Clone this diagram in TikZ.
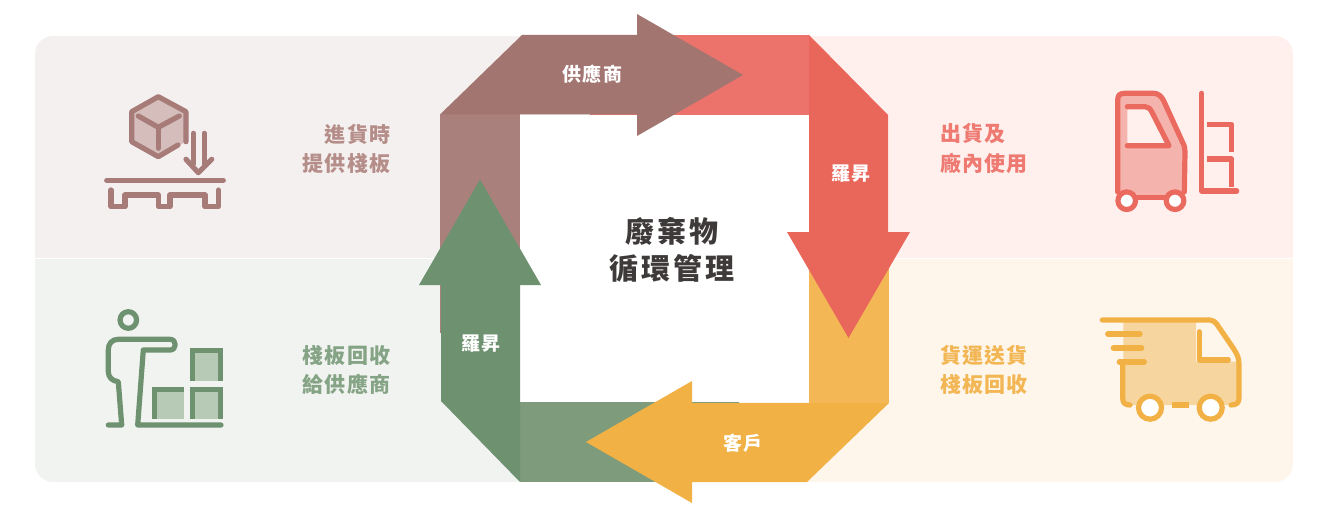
\documentclass[tikz,border=0pt]{standalone}
\usepackage{fontspec}
\newfontfamily\cjk[LetterSpace=6]{Noto Sans CJK TC}
\newfontfamily\cjkt[LetterSpace=10]{Noto Sans CJK TC}
\definecolor{pTL}{HTML}{F4F0EF}
\definecolor{pTR}{HTML}{FFF0EE}
\definecolor{pBL}{HTML}{F1F3F0}
\definecolor{pBR}{HTML}{FFF6EB}
\definecolor{brA}{HTML}{A27570}
\definecolor{brB}{HTML}{AA807C}
\definecolor{reA}{HTML}{E9665B}
\definecolor{reB}{HTML}{EC736B}
\definecolor{orA}{HTML}{F2B145}
\definecolor{orB}{HTML}{F3B855}
\definecolor{grA}{HTML}{6E9170}
\definecolor{grB}{HTML}{7E9C7B}
\definecolor{brI}{HTML}{A77C78}
\definecolor{brL}{HTML}{D4BDBA}
\definecolor{grL}{HTML}{B6CAB6}
\definecolor{reI}{HTML}{EB6A60}
\definecolor{reL}{HTML}{F5B3AD}
\definecolor{orL}{HTML}{F6D59F}
\definecolor{inkc}{HTML}{3E3A39}
\definecolor{tBr}{HTML}{B58D89}
\definecolor{tRe}{HTML}{EE7A72}
\definecolor{tOr}{HTML}{F2B655}
\definecolor{tGr}{HTML}{85A385}
\tikzset{
  icon/.style={line width=5.2pt,line cap=round,line join=round},
  sidetext/.style={font=\cjk\bfseries\fontsize{21}{29}\selectfont,inner sep=0pt},
  arrowtext/.style={font=\cjk\bfseries\fontsize{19}{22}\selectfont,text=white,inner sep=0pt},
  titletext/.style={font=\cjkt\bfseries\fontsize{29}{37}\selectfont,text=inkc,inner sep=0pt,align=center},
}
\begin{document}
\begin{tikzpicture}[x=1pt,y=-1pt]
\useasboundingbox (0,0) rectangle (1327,513);
% panels
\begin{scope}
\clip[rounded corners=18pt] (35,36) rectangle (1293,482);
\fill[pTL] (35,36) rectangle (664,258);
\fill[pTR] (664,36) rectangle (1293,258);
\fill[pBL] (35,259) rectangle (664,482);
\fill[pBR] (664,259) rectangle (1293,482);
\end{scope}
% centre
\fill[white] (520,115) rectangle (809,402);
% light parts of the ring
\fill[brB] (440,114) rectangle (520,333);
\fill[reB] (590,35) rectangle (809,115);
\fill[orB] (809,262) rectangle (889,403);
\fill[grB] (520,402) rectangle (739,482);
% arrows
\fill[brA] (440,114.5) -- (522,35) -- (637,35) -- (637,14) -- (743,75) -- (637,136) -- (637,114.5) -- cycle;
\fill[orA] (889,403) -- (807,482) -- (692,482) -- (692,503) -- (586,442) -- (692,381) -- (692,403) -- cycle;
\fill[reA] (809,35) -- (888,115) -- (888,232) -- (910,232) -- (848.5,338) -- (787,232) -- (809,232) -- cycle;
\fill[grA] (520,482) -- (441,401) -- (441,285) -- (419,285) -- (480,179.5) -- (541,285) -- (520,285) -- cycle;
% arrow labels
\node[arrowtext] (supplier) at (592.5,74) {供應商};
\node[arrowtext] (sheng1) at (851,173.5) {羅昇};
\node[arrowtext] (customer) at (743,443) {客戶};
\node[arrowtext] (sheng2) at (481,343.5) {羅昇};
% title
\node[titletext] (title) at (672,249.5) {廢棄物\\循環管理};
% side texts
\node[sidetext,text=tBr,align=right,anchor=east] (tl) at (390.5,148.5) {進貨時\\提供棧板};
\node[sidetext,text=tGr,align=right,anchor=east] (bl) at (390.5,369.5) {棧板回收\\給供應商};
\node[sidetext,text=tRe,align=left,anchor=west] (tr) at (940,148.5) {出貨及\\廠內使用};
\node[sidetext,text=tOr,align=left,anchor=west] (br) at (940,369.5) {貨運送貨\\棧板回收};
% icon: box and pallet
\begin{scope}[icon,draw=brI]
\fill[brL] (158.3,96.7) -- (186,111.7) -- (186,141.7) -- (158.3,156.7) -- (131.7,141.7) -- (131.7,111.7) -- cycle;
\draw (186,141.7) -- (186,111.7) -- (158.3,96.7) -- (131.7,111.7) -- (131.7,141.7) -- (158.3,156.7) -- (178,145);
\draw (138.3,116) -- (158.3,127.3) -- (179.3,116);
\draw (158.3,127.3) -- (158.3,148.3);
\draw (193.3,133.3) -- (193.3,164);
\draw (204.3,133.3) -- (204.3,164);
\draw (186,159.3) -- (198.3,172.7) -- (211.7,159.3);
\draw (106.7,180.3) -- (223.3,180.3);
\draw (111,190) -- (111,206.7) -- (125,206.7) -- (125,195) -- (158.3,195) -- (158.3,206.7) -- (170,206.7) -- (170,195) -- (205,195) -- (205,206.7) -- (218.3,206.7) -- (218.3,190);
\end{scope}
% icon: worker and boxes
\begin{scope}[icon,draw=grA]
\fill[grL] (190,348.3) rectangle (223.3,381);
\fill[grL] (190,386.7) rectangle (223.3,419);
\fill[grL] (152.3,386.7) rectangle (184.3,419);
\begin{scope}[line cap=butt,line join=miter,line width=5pt]
\draw (192.5,381) -- (192.5,350.8) -- (220.8,350.8) -- (220.8,381);
\draw (192.5,419) -- (192.5,389) -- (220.8,389) -- (220.8,419);
\draw (154.8,419) -- (154.8,389) -- (184.3,389);
\end{scope}
\draw (128.3,320) circle[radius=8.3];
\draw (108.3,425) -- (121.7,425) -- (118.3,381.7) .. controls (112,381) and (108.3,377) .. (108.3,371.7) -- (108.3,350) .. controls (108.3,343.5) and (112,339.3) .. (118.3,339.3) -- (170,339.3) .. controls (177,339.3) and (177,350) .. (170,350) -- (143.3,350) -- (137.7,425) -- (221,425);
\end{scope}
% icon: forklift
\begin{scope}[icon,draw=reI]
\fill[reL] (1117.7,190) -- (1117.7,100) .. controls (1117.7,95) and (1120,93.3) .. (1125,93.3) -- (1153.3,93.3) .. controls (1158,93.3) and (1161,96) .. (1163.3,100) -- (1182.3,141.7) .. controls (1184.5,146) and (1185,148) .. (1185,152) -- (1184.3,197.3) -- (1117.7,197.3) -- cycle;
\fill[pTR] (1127.3,106.7) -- (1145,106.7) .. controls (1148,106.7) and (1150,108.5) .. (1151.7,111.7) -- (1169,145.7) -- (1127.3,145.7) -- cycle;
\draw (1117.7,192) -- (1117.7,100) .. controls (1117.7,95) and (1120,93.3) .. (1125,93.3) -- (1153.3,93.3) .. controls (1158,93.3) and (1161,96) .. (1163.3,100) -- (1182.3,141.7) .. controls (1184.5,146) and (1185,148) .. (1185,152) -- (1184.3,192);
\draw (1136.7,197.3) -- (1165,197.3);
\draw (1127.3,106.7) -- (1145,106.7) .. controls (1148,106.7) and (1150,108.5) .. (1151.7,111.7) -- (1169,145.7) -- (1127.3,145.7);
\draw[fill=white] (1126.7,200.7) circle[radius=8.8];
\draw[fill=white] (1175,200.7) circle[radius=8.8];
\draw (1201.7,93.3) -- (1201.7,191) -- (1236.7,191);
\begin{scope}[line cap=butt]
\draw (1206.7,124.3) -- (1231.7,124.3) -- (1231.7,151.7);
\draw (1206.7,159) -- (1231.7,159) -- (1231.7,186.7);
\end{scope}
\end{scope}
% icon: truck
\begin{scope}[icon,draw=orA]
\fill[orL] (1123.3,320) -- (1196,320) -- (1196,361.7) -- (1239,361.7) -- (1239,398) .. controls (1239,403) and (1236,405) .. (1231,405) -- (1128,405) .. controls (1125,405) and (1123.3,403) .. (1123.3,399) -- cycle;
\draw (1102.3,320) -- (1210,320) .. controls (1213,320) and (1215,322) .. (1216.7,324) -- (1233.3,348.3) .. controls (1237,354) and (1239,358) .. (1239,364) -- (1239,398.3) .. controls (1239,403) and (1236,405) .. (1231,405);
\draw (1107.7,334) -- (1140,334);
\draw (1113.3,348) -- (1141.7,348);
\draw (1119.3,362) -- (1144.3,362);
\draw (1122.7,363.3) -- (1122.7,398.3) .. controls (1122.7,403) and (1125,405) .. (1130,405);
\draw[line cap=butt] (1171.7,405) -- (1189,405);
\draw (1199.3,331.7) -- (1199.3,360) -- (1228.3,360);
\draw[fill=white,line width=5.2pt] (1150,407.7) circle[radius=11.5];
\draw[fill=white,line width=5.2pt] (1210.7,407.7) circle[radius=11.5];
\end{scope}
\end{tikzpicture}
\end{document}
